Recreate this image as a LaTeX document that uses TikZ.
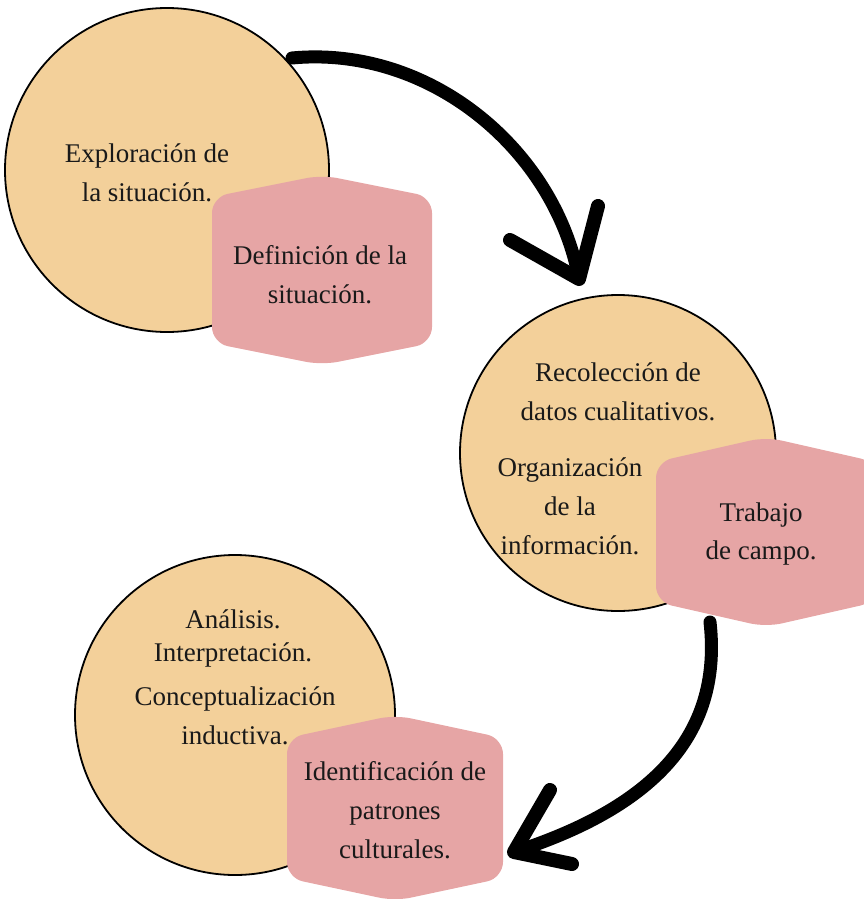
\documentclass[tikz,border=0pt]{standalone}
\usepackage{fontspec}
\setmainfont{Liberation Serif}
\definecolor{peach}{RGB}{243,208,154}
\definecolor{rose}{RGB}{230,165,165}
\begin{document}
\begin{tikzpicture}[x=1pt,y=-1pt,
  circ/.style={circle,draw=black,line width=1.8pt,fill=peach,inner sep=0pt},
  hexfill/.style={fill=rose,rounded corners=16pt},
  txt/.style={font=\fontsize{27}{39}\selectfont,align=center,inner sep=0pt,text=black!90},
  shaft/.style={line width=13pt,line cap=round,draw=black},
  barb/.style={line width=14pt,line cap=round,line join=round,draw=black}]
\useasboundingbox (0,0) rectangle (863,899);
% circles
\node[circ,minimum size=324pt] (c1) at (167,170) {};
\node[circ,minimum size=316pt] (c2) at (618,453) {};
\node[circ,minimum size=320pt] (c3) at (235,715) {};
% circle texts
\node[txt] (t1) at (147,173) {Exploración de\\la situación.};
\node[txt] (t2) at (618,392) {Recolección de\\datos cualitativos.};
\node[txt] (t3) at (570,506) {Organización\\de la\\información.};
\node[txt,font=\fontsize{27}{33}\selectfont] (t4) at (233,638) {Análisis.\\Interpretación.};
\node[txt] (t5) at (235,716) {Conceptualización\\inductiva.};
% arrows
\coordinate (a1s) at (292,58);
\coordinate (a1t) at (579,279);
\coordinate (a1l) at (510,240);
\coordinate (a1r) at (598,206);
\draw[shaft] (a1s) .. controls (430,45) and (555,150) .. (a1t);
\draw[barb] (a1l) -- (a1t) -- (a1r);
\coordinate (a2s) at (710,622);
\coordinate (a2t) at (514,852);
\coordinate (a2u) at (550,790);
\coordinate (a2d) at (572,864);
\draw[shaft] (a2s) .. controls (722,730) and (660,805) .. (a2t);
\draw[barb] (a2u) -- (a2t) -- (a2d);
% hexagons
\begin{scope}[shift={(322,270)}]
\fill[hexfill] (110,0) -- (110,73) -- (0,95) -- (-110,73) -- (-110,-73) -- (0,-95) -- (110,-73) -- cycle;
\end{scope}
\begin{scope}[shift={(766,532)}]
\fill[hexfill] (110,0) -- (110,70) -- (0,95) -- (-110,70) -- (-110,-70) -- (0,-95) -- (110,-70) -- cycle;
\end{scope}
\begin{scope}[shift={(395,808)}]
\fill[hexfill] (108,0) -- (108,70) -- (0,93) -- (-108,70) -- (-108,-70) -- (0,-93) -- (108,-70) -- cycle;
\end{scope}
% hexagon texts
\node[txt] (h1) at (320,275) {Definición de la\\situación.};
\node[txt] (h2) at (761,534) {Trabajo\\de campo.};
\node[txt] (h3) at (395,810) {Identificación de\\patrones\\culturales.};
\end{tikzpicture}
\end{document}
